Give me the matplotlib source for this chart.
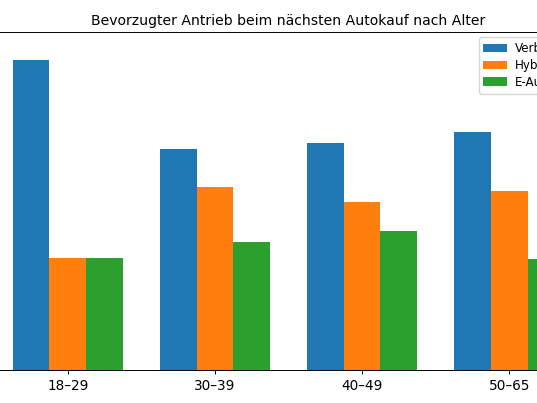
import matplotlib.pyplot as plt
import numpy as np

groups = ["18–29", "30–39", "40–49", "50–65"]
verbrenner = [58.3, 41.5, 42.6, 44.8]
hybrid = [21.1, 34.4, 31.6, 33.7]
e_auto = [21.1, 24.0, 26.2, 20.8]

W, H = 537, 403
fig = plt.figure(figsize=(W / 100, H / 100), dpi=100)
# the axes is wider than the picture: the reference is a crop,
# so the y axis and the legend's right part fall outside it
ax = fig.add_axes([-15 / W, (H - 370.3) / H, 607 / W, 338.6 / H])

x = np.arange(len(groups))
width = 0.25
ax.bar(x - width, verbrenner, width, label="Verbrenner", color="#1f77b4")
ax.bar(x, hybrid, width, label="Hybrid", color="#ff7f0e")
ax.bar(x + width, e_auto, width, label="E-Auto", color="#2ca02c")

ax.set_xlim(-0.5625, 3.5625)
ax.set_ylim(0, 63.55)
ax.set_xticks(x)
ax.set_xticklabels(groups, fontsize=9.8)
ax.tick_params(axis="x", length=3, width=0.7)
ax.tick_params(axis="y", labelsize=9.8)
for sp in ax.spines.values():
    sp.set_linewidth(0.7)
ax.set_title("Bevorzugter Antrieb beim nächsten Autokauf nach Alter", fontsize=10.1, pad=5)
ax.legend(loc="upper left", bbox_to_anchor=(478.7 / W, 1 - 37.3 / H),
          bbox_transform=fig.transFigure, borderaxespad=0,
          fontsize=8.6, labelspacing=0.32, handletextpad=0.6)

fig.savefig("out.png", dpi=100)
